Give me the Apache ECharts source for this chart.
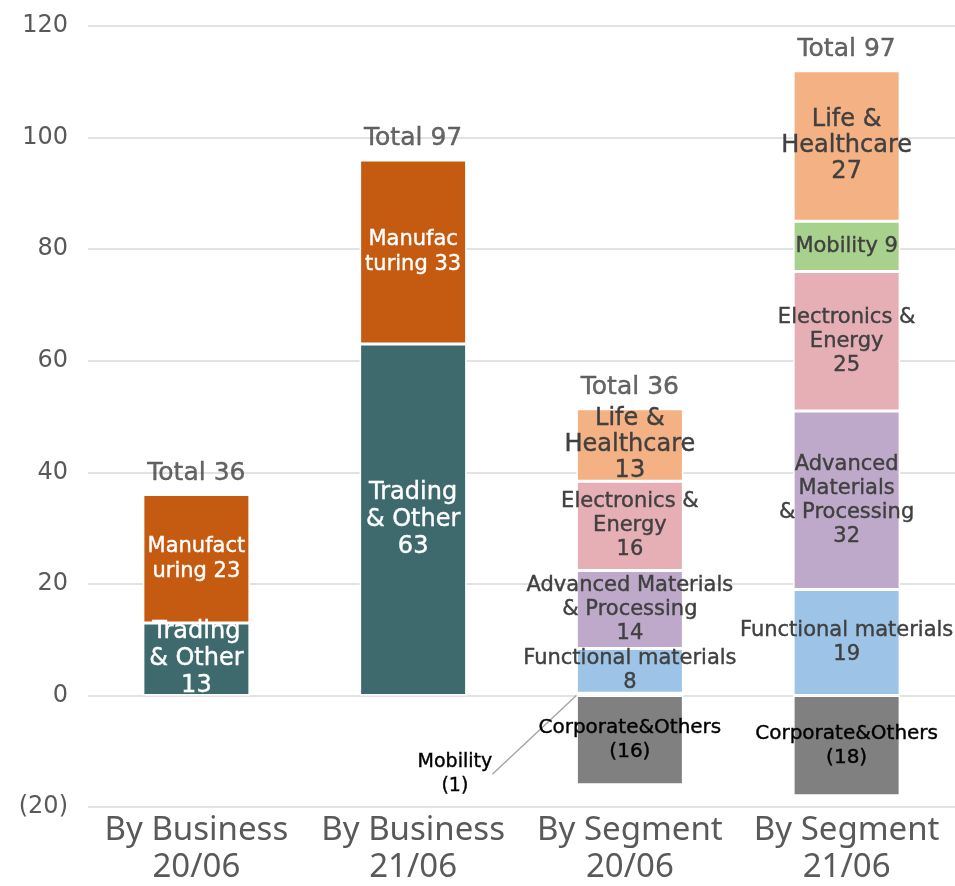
<!DOCTYPE html>
<html>
<head>
<meta charset="utf-8">
<script src="https://cdn.jsdelivr.net/npm/echarts@6/dist/echarts.min.js"></script>
<style>html,body{margin:0;padding:0;background:#fff}#c{width:955px;height:886px}</style>
</head>
<body>
<div id="c"></div>
<script>
var categories = ["By Business\n20/06", "By Business\n21/06", "By Segment\n20/06", "By Segment\n21/06"];
var totals = [36, 97, 36, 97];

var trading = [13, 63, null, null];
var tradingLabels = ["Trading\n& Other\n13", "Trading\n& Other\n63", "", ""];
var manufacturing = [23, 33, null, null];
var manufacturingLabels = ["Manufact\nuring 23", "Manufac\nturing 33", "", ""];
var corporate = [null, null, -16, -18];
var corporateLabels = ["", "", "Corporate&Others\n(16)", "Corporate&Others\n(18)"];
var mobility2006 = [null, null, 0.4, null];
var mobility2006Labels = ["", "", "Mobility\n(1)", ""];
var functional = [null, null, 8, 19];
var functionalLabels = ["", "", "Functional materials\n8", "Functional materials\n19"];
var advanced = [null, null, 14, 32];
var advancedLabels = ["", "", "Advanced Materials\n& Processing\n14", "Advanced\nMaterials\n& Processing\n32"];
var electronics = [null, null, 16, 25];
var electronicsLabels = ["", "", "Electronics &\nEnergy\n16", "Electronics &\nEnergy\n25"];
var mobility2106 = [null, null, null, 9];
var mobility2106Labels = ["", "", "", "Mobility 9"];
var life = [null, null, 13, 27];
var lifeLabels = ["", "", "Life &\nHealthcare\n13", "Life &\nHealthcare\n27"];
var yTicks = [-20, 0, 20, 40, 60, 80, 100, 120];

var FONT = "Noto Sans";
var LFONT = "DejaVu Sans";
var chart = echarts.init(document.getElementById('c'));

function seg(name, data, labels, color, textColor, fontSize, lineHeight, extra) {
  var s = {
    name: name, type: 'bar', stack: 'a', barWidth: 107,
    data: data,
    itemStyle: { color: color, borderColor: '#ffffff', borderWidth: 1.5 },
    label: {
      show: true, position: 'inside', color: textColor, fontFamily: LFONT,
      fontSize: fontSize, lineHeight: lineHeight,
      textBorderColor: textColor, textBorderWidth: 0.4,
      formatter: function (p) { return labels[p.dataIndex] || ''; }
    }
  };
  if (extra) { for (var k in extra) s[k] = extra[k]; }
  return s;
}

// total positions = top of positive stack
var tops = categories.map(function (c, i) {
  var arrs = [trading, manufacturing, mobility2006, functional, advanced, electronics, mobility2106, life];
  var s = 0;
  arrs.forEach(function (a) { if (a[i] != null && a[i] > 0) s += a[i]; });
  return s;
});

var series = [
  seg('Trading & Other', trading, tradingLabels, '#3f6a6d', '#ffffff', 24, 27),
  seg('Manufacturing', manufacturing, manufacturingLabels, '#c55a11', '#ffffff', 21, 25),
  seg('Corporate&Others', corporate, corporateLabels, '#808080', '#000000', 20, 24),
  seg('Mobility', mobility2006, mobility2006Labels, '#a9d18e', '#000000', 19, 24, {
    labelLayout: { dx: -175, dy: 80 },
    labelLine: { show: true, lineStyle: { color: '#a6a6a6', width: 1.5 } }
  }),
  seg('Functional materials', functional, functionalLabels, '#9dc3e6', '#404040', 21, 24),
  seg('Advanced Materials & Processing', advanced, advancedLabels, '#bfa9ca', '#404040', 21, 24),
  seg('Electronics & Energy', electronics, electronicsLabels, '#e6afb5', '#404040', 21, 24),
  seg('Mobility ', mobility2106, mobility2106Labels, '#a9d18e', '#404040', 21, 24),
  seg('Life & Healthcare', life, lifeLabels, '#f4b183', '#404040', 24, 26),
  {
    name: 'Total', type: 'scatter', symbolSize: 0, data: tops,
    label: {
      show: true, position: 'top', distance: 9, color: '#404040', fontFamily: LFONT, fontSize: 25,
      textBorderColor: '#404040', textBorderWidth: 0.4,
      formatter: function (p) { return 'Total ' + totals[p.dataIndex]; }
    }
  }
];

chart.setOption({
  animation: false,
  grid: { left: 88, right: 0, top: 26, bottom: 69 },
  xAxis: {
    type: 'category', data: categories,
    axisLine: { show: false }, axisTick: { show: false },
    axisLabel: { color: '#595959', fontFamily: FONT, fontSize: 33, lineHeight: 37, margin: 5, interval: 0 }
  },
  yAxis: {
    type: 'value', min: yTicks[0], max: yTicks[yTicks.length - 1], interval: 20,
    axisLine: { show: false }, axisTick: { show: false },
    splitLine: { lineStyle: { color: '#d9d9d9', width: 1.5 } },
    axisLabel: {
      color: '#595959', fontFamily: LFONT, fontSize: 24, margin: 20,
      formatter: function (v) { return v < 0 ? '(' + (-v) + ')' : String(v); }
    }
  },
  series: series
});
</script>
</body>
</html>
